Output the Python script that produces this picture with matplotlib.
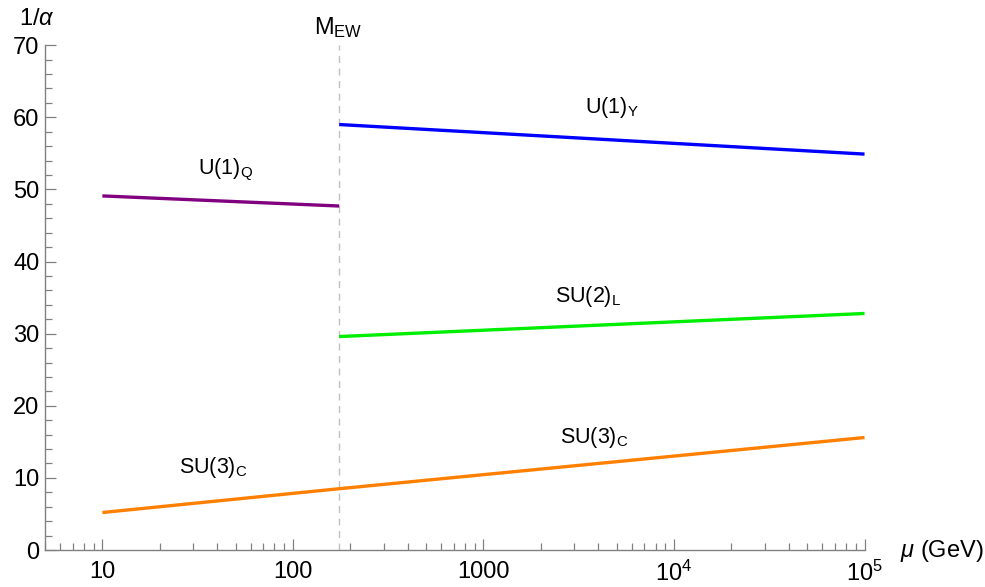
import matplotlib
matplotlib.use("Agg")
import matplotlib.pyplot as plt
from matplotlib.ticker import FixedLocator, FixedFormatter, LogLocator, MultipleLocator, NullFormatter

plt.rcParams['font.family'] = ['Liberation Sans', 'DejaVu Sans']
plt.rcParams['mathtext.fontset'] = 'custom'
plt.rcParams['mathtext.rm'] = 'Liberation Sans'
plt.rcParams['mathtext.it'] = 'Liberation Sans:italic'

# Data (energy scale mu in GeV, inverse couplings)
M_EW = 175
mu_U1Q = [10, M_EW]
inv_U1Q = [49.1, 47.7]
mu_U1Y = [M_EW, 1e5]
inv_U1Y = [59.0, 54.9]
mu_SU2 = [M_EW, 1e5]
inv_SU2 = [29.6, 32.8]
mu_SU3 = [10, M_EW, 1e5]
inv_SU3 = [5.2, 8.5, 15.6]

xticks = [10, 100, 1000, 1e4, 1e5]
xticklabels = ['10', '100', '1000', r'$10^4$', r'$10^5$']
yticks = [0, 10, 20, 30, 40, 50, 60, 70]

fig = plt.figure(figsize=(9.85, 5.87), dpi=100)
ax = fig.add_axes([0.0457, 0.063, 0.832, 0.860])

ax.axvline(M_EW, color='#c0c0c0', lw=1.0, ls=(0, (5, 4)), zorder=1)
lw = 2.4
ax.plot(mu_U1Q, inv_U1Q, color='#800080', lw=lw, solid_capstyle='butt')
ax.plot(mu_U1Y, inv_U1Y, color='#0000ff', lw=lw, solid_capstyle='butt')
ax.plot(mu_SU2, inv_SU2, color='#00ee00', lw=lw, solid_capstyle='butt')
ax.plot(mu_SU3, inv_SU3, color='#ff8000', lw=lw, solid_capstyle='butt')

ax.set_xscale('log')
ax.set_xlim(5, 1e5)
ax.set_ylim(0, 70)

ax.xaxis.set_major_locator(FixedLocator(xticks))
ax.xaxis.set_major_formatter(FixedFormatter(xticklabels))
ax.xaxis.set_minor_locator(LogLocator(base=10, subs=range(2, 10), numticks=20))
ax.xaxis.set_minor_formatter(NullFormatter())
ax.yaxis.set_major_locator(FixedLocator(yticks))
ax.yaxis.set_minor_locator(MultipleLocator(2))

for s in ['top', 'right']:
    ax.spines[s].set_visible(False)
for s in ['left', 'bottom']:
    ax.spines[s].set_color('#808080')
    ax.spines[s].set_linewidth(1.0)

ax.tick_params(which='both', direction='in', color='#808080', labelsize=17, width=0.9)
ax.tick_params(which='major', length=8)
ax.tick_params(which='minor', length=5)
ax.tick_params(axis='x', pad=8)
ax.tick_params(axis='y', pad=4)

fs = 15.5


def lbl(px, py, s, size=fs):
    fig.text(px / 985, 1 - py / 587, s, fontsize=size, ha='center', va='center')


lbl(226, 170, r'U(1)$_\mathrm{Q}$')
lbl(612, 108, r'U(1)$_\mathrm{Y}$')
lbl(588, 297, r'SU(2)$_\mathrm{L}$')
lbl(213, 468, r'SU(3)$_\mathrm{C}$')
lbl(594, 437, r'SU(3)$_\mathrm{C}$')
lbl(338, 28, r'M$_\mathrm{EW}$', 17)
lbl(37, 19, r'1/$\alpha$', 17)
lbl(942, 551, r'$\mu$ (GeV)', 17)

fig.savefig('out.png', dpi=100)
